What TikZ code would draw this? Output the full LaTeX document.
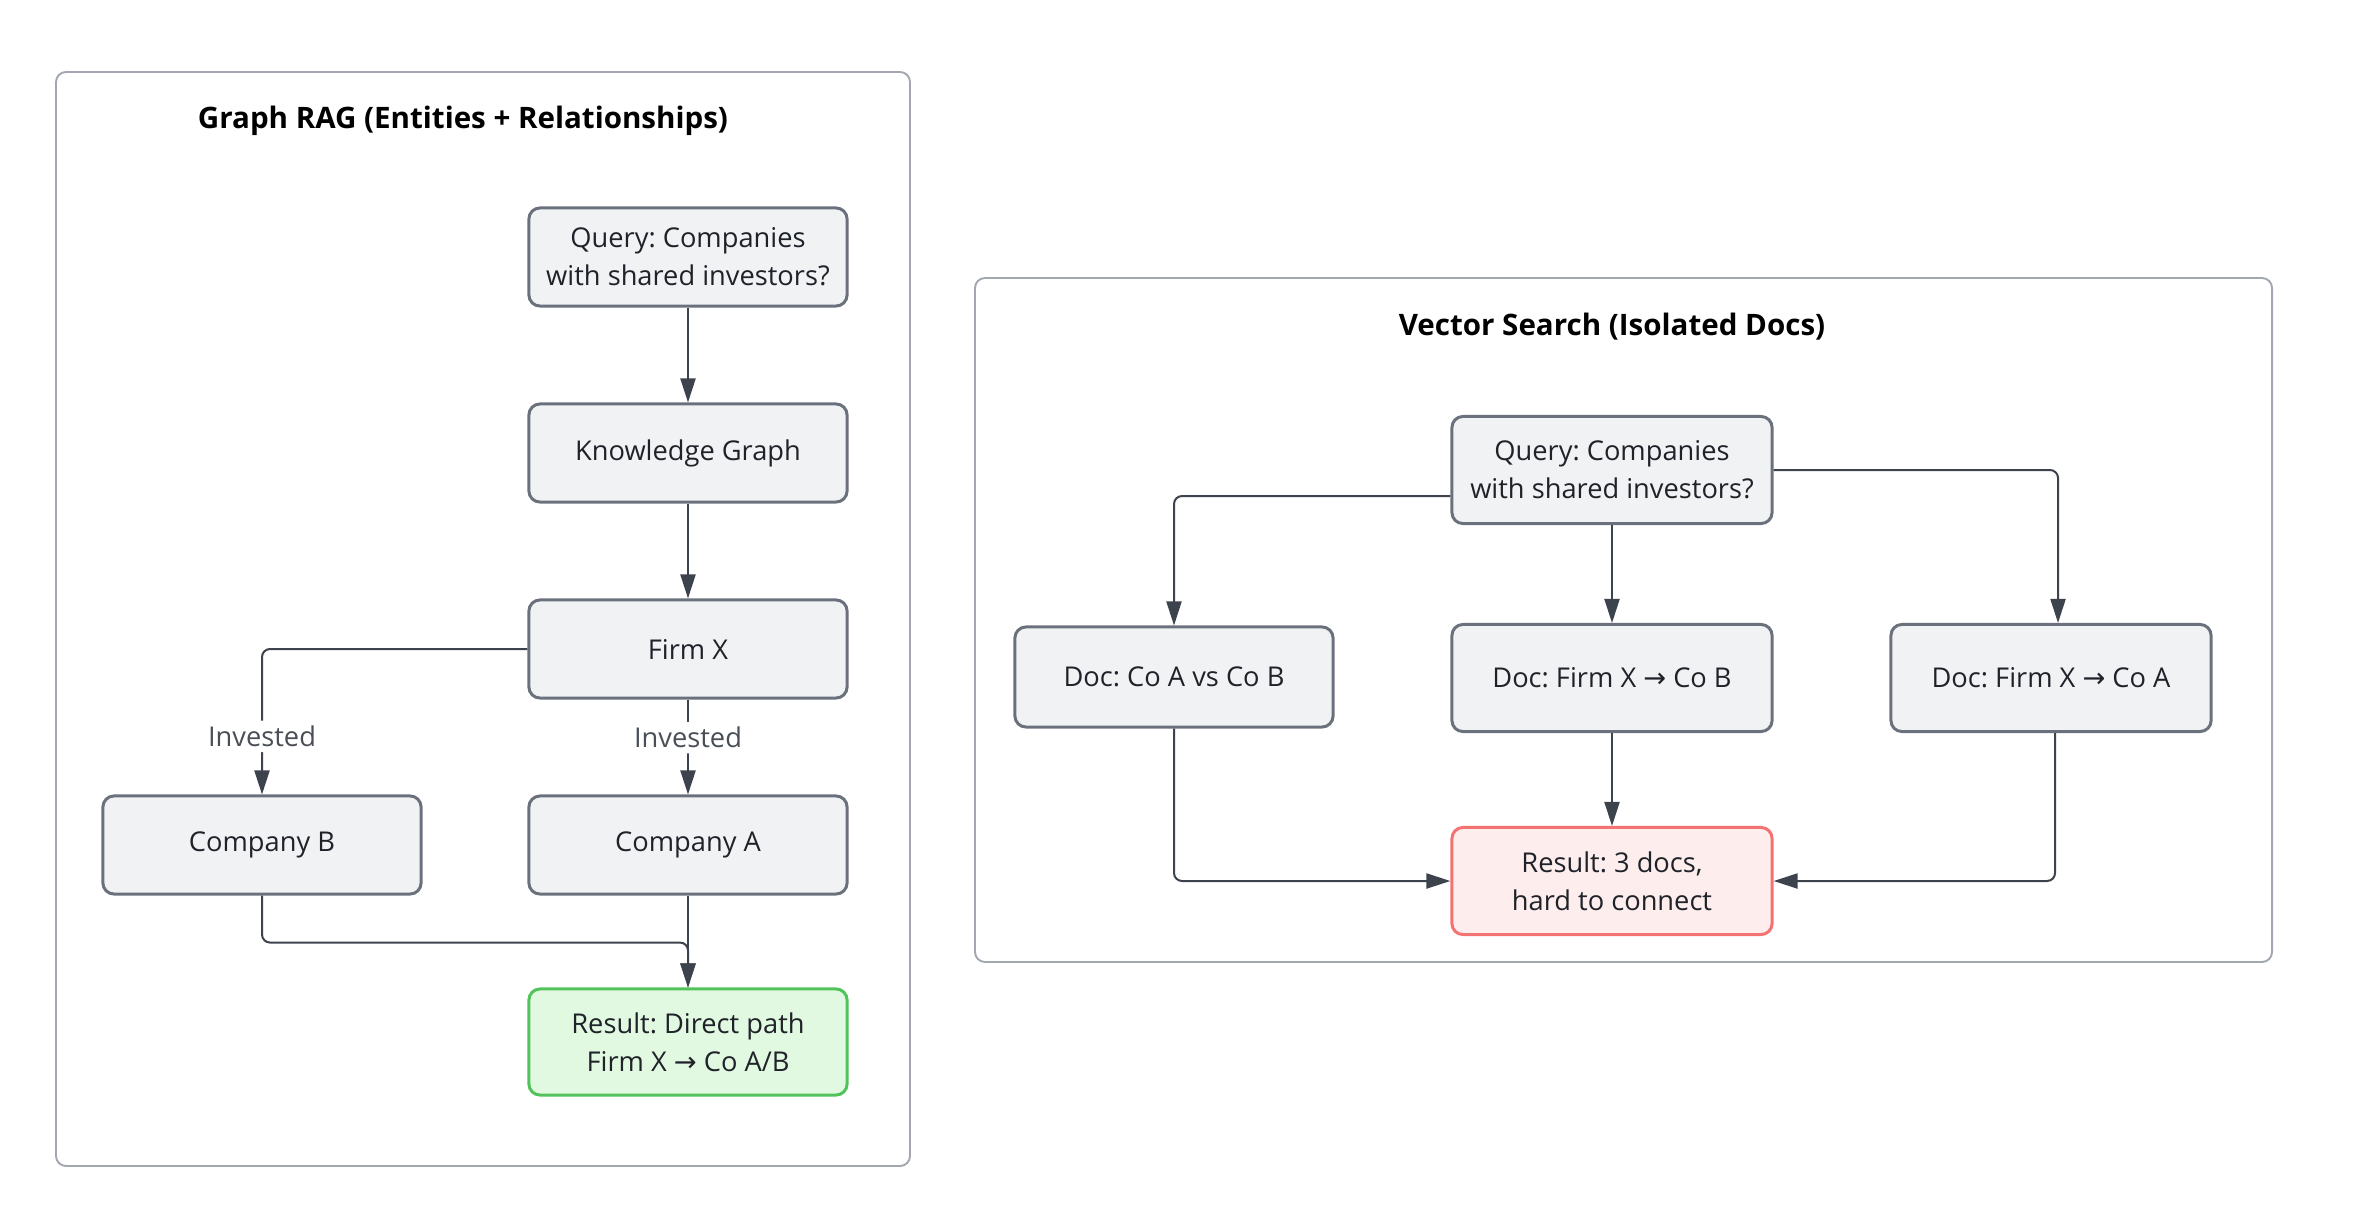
\documentclass[tikz,border=0pt]{standalone}
\usepackage{fontspec}
\setmainfont{Open Sans}
\newfontfamily\arrowfont{DejaVu Sans}
\newcommand{\toarrow}{{\arrowfont →}}
\frenchspacing
\usetikzlibrary{arrows.meta,positioning}
\definecolor{ink}{HTML}{1F2329}
\definecolor{wire}{HTML}{3D434D}
\definecolor{boxfill}{HTML}{F1F2F4}
\definecolor{boxline}{HTML}{6B717C}
\definecolor{frameline}{HTML}{A3A8B0}
\definecolor{okfill}{HTML}{E1F8E1}
\definecolor{okline}{HTML}{52C35B}
\definecolor{badfill}{HTML}{FDEDED}
\definecolor{badline}{HTML}{F47272}
\definecolor{lbl}{HTML}{4A4F57}
\tikzset{
  box/.style={draw=boxline,fill=boxfill,line width=0.85pt,rounded corners=0.11cm,
    minimum width=3.18cm,minimum height=0.98cm,align=center,text=ink,
    font=\fontsize{7.75}{10.8}\selectfont},
  okbox/.style={box,draw=okline,fill=okfill,minimum height=1.06cm},
  badbox/.style={box,draw=badline,fill=badfill,minimum width=3.2cm,minimum height=1.07cm},
  cluster/.style={draw=frameline,line width=0.55pt,rounded corners=0.1cm},
  conn/.style={draw=wire,line width=0.57pt,rounded corners=0.08cm,
    -{Triangle[length=0.24cm,width=0.15cm]}},
  edgelbl/.style={fill=white,text=lbl,font=\fontsize{7.75}{8}\selectfont,inner sep=1.5pt},
  heading/.style={text=black,font=\bfseries\fontsize{8.4}{9}\selectfont}
}
\begin{document}
\begin{tikzpicture}[x=0.01cm,y=-0.01cm]
\useasboundingbox (0,0) rectangle (2364,1212);
\draw[cluster] (56,72) rectangle (910,1166);
\node[heading] (TG) at (463,121) {Graph RAG (Entities + Relationships)};
\node[box] (QG) at (688,257) {Query: Companies\\with shared investors?};
\node[box] (KG) at (688,453) {Knowledge Graph};
\node[box] (FX) at (688,649) {Firm X};
\node[box] (CB) at (262,845) {Company B};
\node[box] (CA) at (688,845) {Company A};
\node[okbox] (RG) at (688,1042) {Result: Direct path\\Firm X \toarrow{} Co A/B};
\draw[conn] (QG) -- (KG);
\draw[conn] (KG) -- (FX);
\draw[conn] (FX.west) -| node[edgelbl,pos=0.8] (L1) {Invested} (CB.north);
\draw[conn] (FX) -- node[edgelbl,pos=0.4] (L2) {Invested} (CA);
\draw[conn] (CB.south) -- ++(0,47) -| (RG.north);
\draw[conn] (CA) -- (RG);
\draw[cluster] (975,278) rectangle (2272,962);
\node[heading] (TV) at (1612,327) {Vector Search (Isolated Docs)};
\node[box,minimum width=3.2cm,minimum height=1.07cm] (QV) at (1612,470) {Query: Companies\\with shared investors?};
\node[box,minimum height=1cm] (DAB) at (1174,677) {Doc: Co A vs Co B};
\node[box,minimum width=3.2cm,minimum height=1.07cm] (DXB) at (1612,678) {Doc: Firm X \toarrow{} Co B};
\node[box,minimum width=3.2cm,minimum height=1.07cm] (DXA) at (2051,678) {Doc: Firm X \toarrow{} Co A};
\node[badbox] (RV) at (1612,881) {Result: 3 docs,\\hard to connect};
\draw[conn] ([yshift=-0.26cm]QV.west) -| (DAB.north);
\draw[conn] (QV) -- (DXB);
\draw[conn] (QV.east) -| ([xshift=0.07cm]DXA.north);
\draw[conn] (DAB.south) |- (RV.west);
\draw[conn] (DXB) -- (RV);
\draw[conn] ([xshift=0.04cm]DXA.south) |- (RV.east);
\end{tikzpicture}
\end{document}
